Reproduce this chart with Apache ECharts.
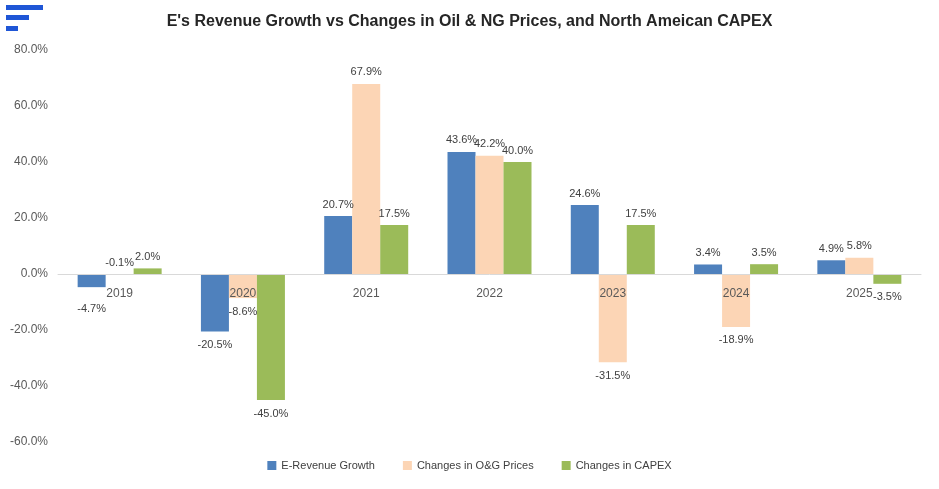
<!DOCTYPE html>
<html><head><meta charset="utf-8">
<script src="https://cdn.jsdelivr.net/npm/echarts@6/dist/echarts.min.js"></script>
<style>html,body{margin:0;padding:0;background:#fff}#c{width:939px;height:489px}</style>
</head><body><div id="c"></div>
<script>
var years = ['2019','2020','2021','2022','2023','2024','2025'];
var revenueGrowth = [-4.7, -20.5, 20.7, 43.6, 24.6, 3.4, 4.9];
var ogPrices = [-0.1, -8.6, 67.9, 42.2, -31.5, -18.9, 5.8];
var capex = [2.0, -45.0, 17.5, 40.0, 17.5, 3.5, -3.5];
var seriesNames = ['E-Revenue Growth', 'Changes in O&G Prices', 'Changes in CAPEX'];
var colors = ['#4F81BD', '#FCD5B5', '#9BBB59'];

var chart = echarts.init(document.getElementById('c'));
function mk(name, arr, color, firstDist) {
  return {
    name: name, type: 'bar', barWidth: 28, barGap: '0%', z: 2,
    itemStyle: {color: color},
    labelLayout: {hideOverlap: false},
    label: {show: true, color: '#404040', fontSize: 11, fontFamily: 'Liberation Sans, Arial',
      formatter: function (p) { return p.value.toFixed(1) + '%'; }},
    data: arr.map(function (v, i) {
      var neg = v < -1;
      var d = neg ? ((i === 0 && firstDist) ? firstDist : 8) : 6;
      return {value: v, label: {position: neg ? 'bottom' : 'top', distance: d}};
    })
  };
}
chart.setOption({
  animation: false,
  title: {text: "E's Revenue Growth vs Changes in Oil & NG Prices, and North Ameican CAPEX",
    left: 'center', top: 9,
    textStyle: {fontSize: 16, fontWeight: 'bold', color: '#262626', fontFamily: 'Liberation Sans, Arial'}},
  graphic: [
    {type: 'rect', shape: {x: 6, y: 5, width: 37, height: 5}, style: {fill: '#1F56D6'}},
    {type: 'rect', shape: {x: 6, y: 15, width: 23, height: 5}, style: {fill: '#1F56D6'}},
    {type: 'rect', shape: {x: 6, y: 26, width: 12, height: 5}, style: {fill: '#1F56D6'}}
  ],
  legend: {bottom: 13, left: 'center', itemWidth: 9, itemHeight: 9, itemGap: 28, icon: 'rect',
    textStyle: {color: '#404040', fontSize: 11, fontFamily: 'Liberation Sans, Arial'},
    data: seriesNames},
  grid: {left: 58, right: 18, top: 50, bottom: 47},
  xAxis: {type: 'category', data: years, z: 10,
    axisLine: {onZero: true, lineStyle: {color: '#D9D9D9'}},
    axisTick: {show: false},
    axisLabel: {color: '#595959', fontSize: 12, fontFamily: 'Liberation Sans, Arial', margin: -154,
      interval: 0, hideOverlap: false}},
  yAxis: {type: 'value', min: -60, max: 80, interval: 20,
    splitLine: {show: false}, axisLine: {show: false}, axisTick: {show: false},
    axisLabel: {color: '#595959', fontSize: 12, fontFamily: 'Liberation Sans, Arial', margin: 10,
      formatter: function (v) { return v.toFixed(1) + '%'; }}},
  series: [mk(seriesNames[0], revenueGrowth, colors[0], 16), mk(seriesNames[1], ogPrices, colors[1]), mk(seriesNames[2], capex, colors[2])]
});
</script></body></html>
